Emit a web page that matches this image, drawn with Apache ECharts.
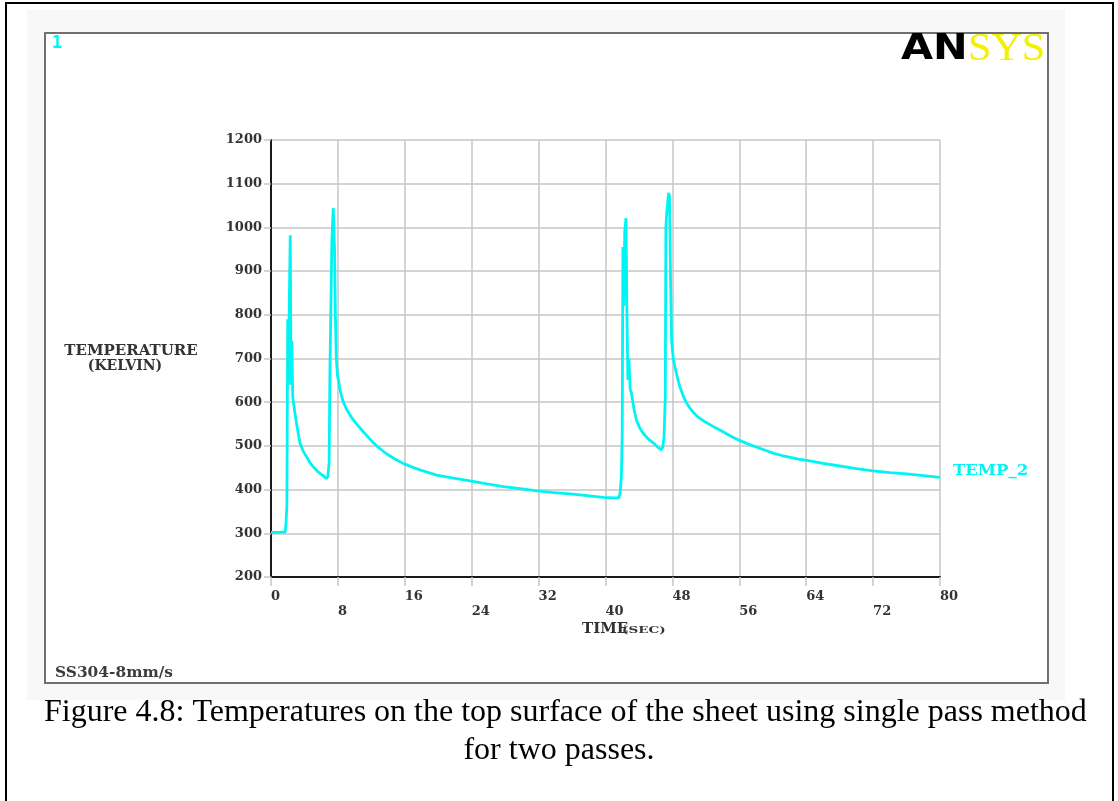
<!DOCTYPE html>
<html>
<head>
<meta charset="utf-8">
<title>Temperatures on the top surface - two passes</title>
<script src="https://cdn.jsdelivr.net/npm/echarts/dist/echarts.min.js"></script>
<style>
  html, body { margin: 0; padding: 0; background: #fff; }
  #chart { width: 1118px; height: 801px; }
</style>
</head>
<body>
<div id="chart"></div>
<script>
// values (TEMP_2)
const timeSec = [
  0, 1.0, 1.7, 1.8, 1.9, 2.0, 2.05, 2.15, 2.3, 2.4, 2.5, 2.6, 2.75, 3.05, 3.45, 3.85,
  4.25, 4.65, 5.05, 5.45, 5.85, 6.25, 6.65, 6.8, 6.95, 7.05, 7.2, 7.28, 7.35, 7.45,
  7.52, 7.6, 7.7, 7.8, 7.95, 8.1, 8.25, 8.6, 9.0, 9.6, 10.2, 11.0, 11.8, 12.8, 13.8,
  14.8, 15.8, 16.8, 17.8, 19.8, 21.8, 23.8, 25.8, 27.8, 29.8, 31.8, 33.8, 35.8, 37.8, 39.7,
  41.0, 41.6, 41.75, 41.9, 42.0, 42.08, 42.18, 42.3, 42.45, 42.55, 42.68, 42.8, 42.95,
  43.1, 43.4, 43.7, 44.1, 44.5, 45.1, 45.7, 46.2, 46.65, 46.85, 47.0, 47.15, 47.22,
  47.32, 47.55, 47.65, 47.78, 47.9, 48.1, 48.3, 48.6, 48.9, 49.3, 49.7, 50.1, 50.5,
  51.0, 52.0, 53.0, 54.1, 55.1, 56.1, 57.1, 58.1, 59.1, 60.1, 61.1, 62.1, 63.1, 64.1,
  66.0, 68.0, 70.0, 72.0, 74.0, 76.0, 78.0, 80.0
];
const tempK = [
  302, 302, 303, 325, 365, 790, 640, 770, 982, 640, 740, 612, 590, 552, 507, 488,
  475, 462, 452, 444, 437, 432, 425, 430, 461, 674, 676, 971, 975, 1044,
  1040, 948, 800, 703, 660, 648, 628, 603, 585, 566, 551, 533, 516, 497, 482,
  470, 460, 452, 445, 433, 426, 420, 413, 407, 402, 397, 393, 390, 386, 382,
  381, 381, 392, 430, 529, 955, 820, 990, 1021, 820, 651, 700, 630,
  621, 585, 559, 541, 529, 516, 507, 498, 491, 497, 520, 612, 1000,
  1033, 1079, 1072, 880, 742, 700, 681, 656, 635, 614, 598, 586, 577,
  567, 554, 543, 532, 521, 512, 504, 497, 490, 483, 478, 474, 470, 467,
  460, 454, 448, 443, 439, 436, 432, 428
];
const xRange = [0, 80];
const xStep = 8;
const yRange = [200, 1200];
const yStep = 100;

let chart = echarts.init(document.getElementById('chart'), null, { renderer: 'canvas' });
let ansysFont = "'DejaVu Serif'";
let gridGray = '#c6c6c6';
let cyan = '#00f4f4';

let option = {
  animation: false,
  backgroundColor: '#ffffff',
  grid: { left: 271, top: 140, right: 178, bottom: 224, containLabel: false },
  xAxis: {
    type: 'value',
    min: xRange[0],
    max: xRange[1],
    interval: xStep,
    axisLine: { show: true, onZero: false, lineStyle: { color: '#1a1a1a', width: 2 } },
    axisTick: { show: true, length: 9, lineStyle: { color: gridGray, width: 1.5 } },
    axisLabel: {
      margin: 12,
      align: 'left',
      verticalAlign: 'top',
      lineHeight: 15,
      color: '#333',
      fontFamily: ansysFont,
      fontWeight: 'bold',
      fontSize: 13,
      // every second label sits one row lower
      formatter: function (v) { return (v / xStep) % 2 ? '\n' + v : '' + v; }
    },
    splitLine: { show: true, lineStyle: { color: gridGray, width: 1.5 } }
  },
  yAxis: {
    type: 'value',
    min: yRange[0],
    max: yRange[1],
    interval: yStep,
    axisLine: { show: true, lineStyle: { color: '#1a1a1a', width: 2 } },
    axisTick: { show: true, length: 7, lineStyle: { color: gridGray, width: 1.5 } },
    axisLabel: {
      margin: 9,
      color: '#333',
      fontFamily: ansysFont,
      fontWeight: 'bold',
      fontSize: 13,
      formatter: function (v) { return '' + v; }
    },
    splitLine: { show: true, lineStyle: { color: gridGray, width: 1.5 } }
  },
  series: [{
    name: 'TEMP_2',
    type: 'line',
    data: timeSec.map((t, i) => [t, tempK[i]]),
    symbol: 'none',
    lineStyle: { color: cyan, width: 2.8 },
    z: 5
  }],
  graphic: [
    { type: 'rect', z: -30, shape: { x: 27, y: 10, width: 1038, height: 690 }, style: { fill: '#f8f8f8' } },
    { type: 'rect', z: -20, shape: { x: 45, y: 33, width: 1003, height: 650 }, style: { fill: '#fff', stroke: '#707070', lineWidth: 2 } },
    { type: 'polyline', z: 10, shape: { points: [[6, 801], [6, 3], [1113, 3], [1113, 801]] }, style: { stroke: '#000', lineWidth: 2, fill: null } },
    { type: 'text', z: 10, x: 52, y: 44, style: { text: '1', fill: cyan, font: "bold 17px 'DejaVu Sans Mono'", textVerticalAlign: 'middle' } },
    { type: 'text', z: 10, x: 901, y: 50, scaleX: 1.15, style: { text: 'AN', fill: '#000', font: "bold 36px 'DejaVu Sans'", textVerticalAlign: 'middle' } },
    { type: 'text', z: 10, x: 968, y: 50, scaleX: 1.08, style: { text: 'SYS', fill: '#f2f200', font: "39px 'Liberation Serif'", textVerticalAlign: 'middle' } },
    { type: 'text', z: 10, x: 131, y: 351, style: { text: 'TEMPERATURE', fill: '#333', font: "bold 15px 'DejaVu Serif'", textAlign: 'center', textVerticalAlign: 'middle' } },
    { type: 'text', z: 10, x: 125, y: 366, style: { text: '(KELVIN)', fill: '#333', font: "bold 14px 'DejaVu Serif'", textAlign: 'center', textVerticalAlign: 'middle' } },
    { type: 'text', z: 10, x: 582, y: 629, style: { text: 'TIME', fill: '#333', font: "bold 15px 'DejaVu Serif'", textVerticalAlign: 'middle' } },
    { type: 'text', z: 10, x: 622, y: 630, scaleX: 1.35, style: { text: '(SEC)', fill: '#333', font: "bold 10px 'DejaVu Serif'", textVerticalAlign: 'middle' } },
    { type: 'text', z: 10, x: 953, y: 471, scaleX: 1.1, style: { text: 'TEMP_2', fill: cyan, font: "bold 15px 'DejaVu Serif'", textVerticalAlign: 'middle' } },
    { type: 'text', z: 10, x: 55, y: 673, scaleX: 1.1, style: { text: 'SS304-8mm/s', fill: '#3c3c3c', font: "bold 14px 'DejaVu Serif'", textVerticalAlign: 'middle' } },
    { type: 'text', z: 10, x: 44, y: 713, style: { text: 'Figure 4.8: Temperatures on the top surface of the sheet using single pass method', fill: '#000', font: "32px 'Liberation Serif'", textVerticalAlign: 'middle' } },
    { type: 'text', z: 10, x: 559, y: 751, style: { text: 'for two passes.', fill: '#000', font: "32px 'Liberation Serif'", textAlign: 'center', textVerticalAlign: 'middle' } }
  ]
};
chart.setOption(option);
</script>
</body>
</html>
